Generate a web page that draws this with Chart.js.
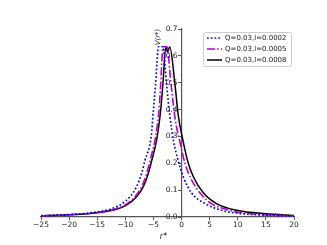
<!DOCTYPE html>
<html>
<head>
<meta charset="utf-8">
<script src="https://cdn.jsdelivr.net/npm/chart.js@4.4.0/dist/chart.umd.min.js"></script>
<style>
  html, body { margin: 0; padding: 0; background: #fff; }
  #wrap { width: 327px; height: 245px; position: relative; }
</style>
</head>
<body>
<div id="wrap"><canvas id="chart"></canvas></div>
<script>
// V(r*) curves
const seriesLabels = ['Q=0.03,l=0.0002', 'Q=0.03,l=0.0005', 'Q=0.03,l=0.0008'];

const rBlue = [-25, -20, -16, -12.7, -11, -9.2, -8, -7.1, -6.5, -5.4, -5.0, -4.6, -4.1, -3.3, -2.7, -2.1, -1.4, -0.6, 0.3, 1.8, 4.2, 7.1, 10, 15, 20];
const vBlue = [0.005, 0.009, 0.016, 0.029, 0.044, 0.075, 0.113, 0.163, 0.211, 0.3, 0.4, 0.5, 0.634, 0.634, 0.5, 0.38, 0.28, 0.21, 0.15, 0.089, 0.05, 0.025, 0.014, 0.007, 0.004];

const rMagenta = [-25, -20, -15, -11.9, -10.1, -8.3, -7.1, -6.2, -5.6, -4.7, -4.0, -3.7, -3.3, -2.6, -1.9, -1.1, -0.3, 0.6, 1.5, 3.3, 5.3, 8, 10, 15, 20];
const vMagenta = [0.004, 0.008, 0.017, 0.029, 0.044, 0.075, 0.113, 0.163, 0.211, 0.29, 0.4, 0.5, 0.634, 0.634, 0.5, 0.36, 0.28, 0.2, 0.15, 0.089, 0.05, 0.028, 0.018, 0.008, 0.004];

const rBlack = [-25, -20, -15, -11.6, -9.8, -8, -6.8, -5.9, -5.3, -4.4, -3.7, -3.3, -2.8, -2.5, -2.1, -1.2, -0.6, 0.3, 1.2, 2.1, 3.9, 6.2, 9.8, 15, 20];
const vBlack = [0.004, 0.008, 0.016, 0.029, 0.044, 0.075, 0.113, 0.163, 0.211, 0.29, 0.4, 0.5, 0.634, 0.615, 0.634, 0.5, 0.38, 0.28, 0.2, 0.15, 0.089, 0.05, 0.025, 0.012, 0.006];

const xTicksMin = -25, xTicksMax = 20, xStep = 5;
const yTicksMin = 0, yTicksMax = 0.7, yStep = 0.1;

function toPoints(xs, ys) {
  return xs.map((x, i) => ({ x, y: ys[i] }));
}

const tickFont = { family: 'DejaVu Sans', size: 7.5 };
const spineColor = '#555';

// matplotlib-like framed legend in the upper right
const boxLegend = {
  id: 'boxLegend',
  afterDraw(chart) {
    const ctx = chart.ctx;
    const area = chart.chartArea;
    const x0 = area.right - 91, y0 = area.top + 3, w = 88, h = 34;
    ctx.save();
    ctx.fillStyle = 'rgba(255,255,255,0.8)';
    ctx.strokeStyle = '#ccc';
    ctx.lineWidth = 1;
    ctx.beginPath();
    ctx.roundRect(x0 + 0.5, y0 + 0.5, w, h, 2);
    ctx.fill();
    ctx.stroke();
    ctx.font = '7px "DejaVu Sans"';
    ctx.textBaseline = 'middle';
    chart.data.datasets.forEach((ds, i) => {
      const yy = y0 + 6 + i * 11;
      ctx.strokeStyle = ds.borderColor;
      ctx.lineWidth = ds.borderWidth;
      ctx.setLineDash(ds.borderDash || []);
      ctx.beginPath();
      ctx.moveTo(x0 + 4, yy);
      ctx.lineTo(x0 + 19, yy);
      ctx.stroke();
      ctx.setLineDash([]);
      ctx.fillStyle = '#222';
      ctx.fillText(ds.label, x0 + 22, yy);
    });
    ctx.restore();
  }
};

// y tick labels left of the centred spine, plus the two axis titles
const axisText = {
  id: 'axisText',
  afterDraw(chart) {
    const ctx = chart.ctx;
    const area = chart.chartArea;
    const ys = chart.scales.y;
    const x0 = chart.scales.x.getPixelForValue(0);
    ctx.save();
    ctx.fillStyle = '#222';
    ctx.font = '7.5px "DejaVu Sans"';
    ctx.textAlign = 'right';
    ctx.textBaseline = 'middle';
    ys.ticks.forEach(t => {
      ctx.fillText(t.value.toFixed(1), x0 - 4, ys.getPixelForValue(t.value));
    });

    ctx.font = 'italic 7px "DejaVu Sans"';
    ctx.textAlign = 'center';
    ctx.translate(x0 - 23, area.top + 8);
    ctx.rotate(-Math.PI / 2);
    ctx.fillText('V(r*)', 0, 0);
    ctx.restore();

    ctx.save();
    ctx.fillStyle = '#222';
    ctx.font = 'italic 8px "DejaVu Sans"';
    ctx.textAlign = 'center';
    ctx.textBaseline = 'top';
    ctx.fillText('r*', (area.left + area.right) / 2 - 4, area.bottom + 16);
    ctx.restore();
  }
};

new Chart(document.getElementById('chart'), {
  type: 'scatter',
  data: {
    datasets: [
      {
        label: seriesLabels[0],
        data: toPoints(rBlue, vBlue),
        borderColor: '#0000ff',
        borderWidth: 1.7,
        borderDash: [1.7, 2.1]
      },
      {
        label: seriesLabels[1],
        data: toPoints(rMagenta, vMagenta),
        borderColor: '#bf00bf',
        borderWidth: 1.6,
        borderDash: [8, 2.2, 1.6, 2.2]
      },
      {
        label: seriesLabels[2],
        data: toPoints(rBlack, vBlack),
        borderColor: '#000000',
        borderWidth: 1.5
      }
    ].map(ds => Object.assign(ds, { showLine: true, pointRadius: 0, fill: false, cubicInterpolationMode: 'monotone' }))
  },
  options: {
    responsive: true,
    maintainAspectRatio: false,
    animation: false,
    layout: { padding: { left: 41, right: 33, top: 29, bottom: 28 } },
    plugins: {
      legend: { display: false },
      tooltip: { enabled: false }
    },
    scales: {
      x: {
        type: 'linear',
        position: { y: 0 },
        min: xTicksMin,
        max: xTicksMax,
        afterFit(scale) { scale.height = 0; },
        ticks: {
          stepSize: xStep,
          color: '#222',
          font: tickFont,
          padding: 1,
          maxRotation: 0,
          callback: (v) => String(v).replace('-', '\u2212')
        },
        grid: { drawOnChartArea: false, drawTicks: true, tickLength: 3, color: spineColor },
        border: { display: true, color: spineColor, width: 1.2 }
      },
      y: {
        type: 'linear',
        position: { x: 0 },
        min: yTicksMin,
        max: yTicksMax,
        afterFit(scale) { scale.width = 0; },
        ticks: {
          stepSize: yStep,
          display: false
        },
        grid: { drawOnChartArea: false, drawTicks: true, tickLength: 3, color: spineColor },
        border: { display: true, color: spineColor, width: 1.2 }
      }
    }
  },
  plugins: [boxLegend, axisText]
});
</script>
</body>
</html>
